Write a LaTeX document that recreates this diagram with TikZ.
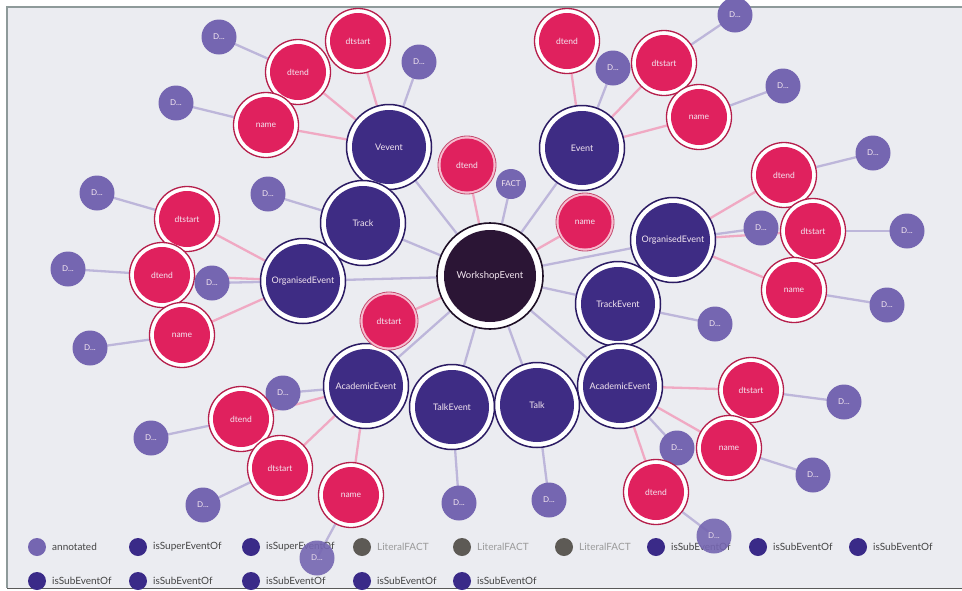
\documentclass[tikz,border=0pt]{standalone}
\usepackage{fontspec}
\setmainfont{Lato}
\pgfdeclarelayer{bg}
\pgfdeclarelayer{edgelayer}
\pgfsetlayers{bg,edgelayer,main}
\definecolor{bgc}{HTML}{EBECF1}
\definecolor{framec}{HTML}{8E9A9A}
\definecolor{purpfill}{HTML}{3E2C84}
\definecolor{purpout}{HTML}{2B1B63}
\definecolor{hubfill}{HTML}{2B1535}
\definecolor{hubout}{HTML}{1E0F25}
\definecolor{pinkfill}{HTML}{E0215E}
\definecolor{pinkout}{HTML}{B51E4B}
\definecolor{lavfill}{HTML}{7566B1}
\definecolor{lavedge}{HTML}{BDB6DA}
\definecolor{pinkedge}{HTML}{F0A9C3}
\definecolor{nodetext}{HTML}{F3E6F0}
\definecolor{legdark}{HTML}{3A2A88}
\definecolor{leggray}{HTML}{5D5A55}
\definecolor{legtext}{HTML}{444444}
\definecolor{legtextgray}{HTML}{9A9A9A}
\tikzset{
  hub/.style={circle, minimum size=106pt, inner sep=0pt, fill=white, draw=hubout, line width=1.6pt,
    path picture={\fill[hubfill] (path picture bounding box.center) circle (46pt);},
    text=nodetext, font=\fontsize{9.5}{11}\selectfont},
  bignode/.style={circle, minimum size=85pt, inner sep=0pt, fill=white, draw=purpout, line width=1.5pt,
    path picture={\fill[purpfill] (path picture bounding box.center) circle (37pt);},
    text=nodetext, font=\fontsize{9}{10}\selectfont},
  prop/.style={circle, minimum size=65pt, inner sep=0pt, fill=white, draw=pinkout, line width=1.3pt,
    path picture={\fill[pinkfill] (path picture bounding box.center) circle (28pt);},
    text=nodetext, font=\fontsize{8.5}{10}\selectfont},
  propc/.style={circle, minimum size=58pt, inner sep=0pt, fill=white!70!pinkfill, draw=pinkout!80, line width=0.8pt,
    path picture={\fill[pinkfill] (path picture bounding box.center) circle (26.5pt);},
    text=nodetext, font=\fontsize{8.5}{10}\selectfont},
  dnode/.style={circle, minimum size=35pt, inner sep=0pt, fill=lavfill, text=nodetext, font=\fontsize{8}{9}\selectfont},
  factnode/.style={circle, minimum size=30pt, inner sep=0pt, fill=lavfill, text=nodetext, font=\fontsize{8}{9}\selectfont},
  ledge/.style={draw=lavedge, line width=2.3pt},
  pedge/.style={draw=pinkedge, line width=2.3pt},
  legmark/.style={circle, minimum size=18pt, inner sep=0pt},
  legtxt/.style={anchor=west, inner sep=0pt, font=\fontsize{10}{12}\selectfont, text=legtext},
}
\begin{document}
\begin{tikzpicture}[x=1pt,y=-1pt]
\useasboundingbox (0,0) rectangle (962,590);
\begin{pgfonlayer}{bg}
\fill[white] (0,0) rectangle (962,590);
\fill[bgc] (7,7) rectangle (962,588);
\draw[framec, line width=2pt] (7,588) -- (7,7) -- (962,7);
\draw[black!65, line width=1.5pt] (7,588.5) -- (962,588.5);
\end{pgfonlayer}

% legend
\node[legmark, fill=lavfill] (lg1) at (37,547) {};
\node[legtxt] (lt1) at (52,547) {annotated};
\node[legmark, fill=legdark] (lg2) at (138,547) {};
\node[legtxt] (lt2) at (153,547) {isSuperEventOf};
\node[legmark, fill=legdark] (lg3) at (251,547) {};
\node[legtxt] (lt3) at (266,547) {isSuperEventOf};
\node[legmark, fill=leggray] (lg4) at (362,547) {};
\node[legtxt, text=legtextgray] (lt4) at (377,547) {LiteralFACT};
\node[legmark, fill=leggray] (lg5) at (462,547) {};
\node[legtxt, text=legtextgray] (lt5) at (477,547) {LiteralFACT};
\node[legmark, fill=leggray] (lg6) at (564,547) {};
\node[legtxt, text=legtextgray] (lt6) at (579,547) {LiteralFACT};
\node[legmark, fill=legdark] (lg7) at (656,547) {};
\node[legtxt] (lt7) at (671,547) {isSubEventOf};
\node[legmark, fill=legdark] (lg8) at (758,547) {};
\node[legtxt] (lt8) at (773,547) {isSubEventOf};
\node[legmark, fill=legdark] (lg9) at (858,547) {};
\node[legtxt] (lt9) at (873,547) {isSubEventOf};
\node[legmark, fill=legdark] (lg10) at (37,581) {};
\node[legtxt] (lt10) at (52,581) {isSubEventOf};
\node[legmark, fill=legdark] (lg11) at (138,581) {};
\node[legtxt] (lt11) at (153,581) {isSubEventOf};
\node[legmark, fill=legdark] (lg12) at (251,581) {};
\node[legtxt] (lt12) at (266,581) {isSubEventOf};
\node[legmark, fill=legdark] (lg13) at (362,581) {};
\node[legtxt] (lt13) at (377,581) {isSubEventOf};
\node[legmark, fill=legdark] (lg14) at (462,581) {};
\node[legtxt] (lt14) at (477,581) {isSubEventOf};

% main nodes
\node[hub] (ws) at (490,276) {WorkshopEvent};
\node[bignode] (vev) at (389,147) {Vevent};
\node[bignode] (evt) at (582,148) {Event};
\node[bignode] (trk) at (363,223) {Track};
\node[bignode] (orgL) at (303,281) {OrganisedEvent};
\node[bignode] (orgR) at (673,240) {OrganisedEvent};
\node[bignode] (tev) at (618,304) {TrackEvent};
\node[bignode] (acL) at (366,386) {AcademicEvent};
\node[bignode] (tkev) at (452,407) {TalkEvent};
\node[bignode] (talk) at (537,405) {Talk};
\node[bignode] (acR) at (620,386) {AcademicEvent};

% center children
\node[propc] (cdte) at (467,165) {dtend};
\node[factnode] (fact) at (511,184) {FACT};
\node[propc] (cnm) at (585,222) {name};
\node[propc] (cdts) at (389,321) {dtstart};

% Vevent group
\node[prop] (vdts) at (358,41) {dtstart};
\node[prop] (vdte) at (298,72) {dtend};
\node[prop] (vnm) at (266,125) {name};
\node[dnode] (vd1) at (219,37) {D...};
\node[dnode] (vd2) at (419,62) {D...};
\node[dnode] (vd3) at (176,103) {D...};
% Track
\node[dnode] (td) at (268,194) {D...};
% OrganisedEvent left
\node[prop] (odts) at (187,219) {dtstart};
\node[prop] (odte) at (162,275) {dtend};
\node[prop] (onm) at (182,335) {name};
\node[dnode] (od0) at (212,283) {D...};
\node[dnode] (od1) at (97,193) {D...};
\node[dnode] (od2) at (68,269) {D...};
\node[dnode] (od3) at (90,348) {D...};
% Event group
\node[prop] (edte) at (567,41) {dtend};
\node[dnode] (ed0) at (613,68) {D...};
\node[prop] (edts) at (664,63) {dtstart};
\node[prop] (enm) at (699,117) {name};
\node[dnode] (ed1) at (735,15) {D...};
\node[dnode] (ed2) at (783,86) {D...};
% OrganisedEvent right
\node[prop] (rdte) at (784,175) {dtend};
\node[dnode] (rd0) at (761,228) {D...};
\node[prop] (rdts) at (813,231) {dtstart};
\node[prop] (rnm) at (794,290) {name};
\node[dnode] (rd1) at (873,153) {D...};
\node[dnode] (rd2) at (907,231) {D...};
\node[dnode] (rd3) at (887,305) {D...};
% TrackEvent
\node[dnode] (ted) at (715,324) {D...};
% AcademicEvent right
\node[prop] (adts) at (751,390) {dtstart};
\node[prop] (anm) at (729,448) {name};
\node[dnode] (ad0) at (677,448) {D...};
\node[prop] (adte) at (656,492) {dtend};
\node[dnode] (ad1) at (844,402) {D...};
\node[dnode] (ad2) at (813,475) {D...};
\node[dnode, opacity=0.9] (ad3) at (714,536) {D...};
% Talk, TalkEvent
\node[dnode] (tkd) at (549,500) {D...};
\node[dnode] (tvd) at (459,503) {D...};
% AcademicEvent left
\node[dnode] (ld0) at (283,393) {D...};
\node[prop] (ldte) at (241,419) {dtend};
\node[prop] (ldts) at (280,468) {dtstart};
\node[prop] (lnm) at (351,495) {name};
\node[dnode] (ld1) at (151,438) {D...};
\node[dnode] (ld2) at (203,505) {D...};
\node[dnode, opacity=0.9] (ld3) at (317,558) {D...};

\begin{pgfonlayer}{edgelayer}
% hub
\foreach \t in {vev,evt,trk,orgL,orgR,tev,acL,acR,tkev,talk,fact}
  \draw[ledge] (ws.center) -- (\t.center);
\foreach \t in {cdte,cnm,cdts}
  \draw[pedge] (ws.center) -- (\t.center);
% Vevent
\foreach \t in {vdts,vdte,vnm} \draw[pedge] (vev.center) -- (\t.center);
\draw[ledge] (vev.center) -- (vd2.center);
\draw[ledge] (vdte.center) -- (vd1.center);
\draw[ledge] (vnm.center) -- (vd3.center);
\draw[ledge] (trk.center) -- (td.center);
% OrganisedEvent left
\foreach \t in {odts,odte,onm} \draw[pedge] (orgL.center) -- (\t.center);
\draw[ledge] (orgL.center) -- (od0.center);
\draw[ledge] (odts.center) -- (od1.center);
\draw[ledge] (odte.center) -- (od2.center);
\draw[ledge] (onm.center) -- (od3.center);
% Event
\foreach \t in {edte,edts,enm} \draw[pedge] (evt.center) -- (\t.center);
\draw[ledge] (evt.center) -- (ed0.center);
\draw[ledge] (edts.center) -- (ed1.center);
\draw[ledge] (enm.center) -- (ed2.center);
% OrganisedEvent right
\foreach \t in {rdte,rdts,rnm} \draw[pedge] (orgR.center) -- (\t.center);
\draw[ledge] (orgR.center) -- (rd0.center);
\draw[ledge] (rdte.center) -- (rd1.center);
\draw[ledge] (rdts.center) -- (rd2.center);
\draw[ledge] (rnm.center) -- (rd3.center);
\draw[ledge] (tev.center) -- (ted.center);
% AcademicEvent right
\foreach \t in {adts,anm,adte} \draw[pedge] (acR.center) -- (\t.center);
\draw[ledge] (acR.center) -- (ad0.center);
\draw[ledge] (adts.center) -- (ad1.center);
\draw[ledge] (anm.center) -- (ad2.center);
\draw[ledge] (adte.center) -- (ad3.center);
\draw[ledge] (talk.center) -- (tkd.center);
\draw[ledge] (tkev.center) -- (tvd.center);
% AcademicEvent left
\foreach \t in {ldte,ldts,lnm} \draw[pedge] (acL.center) -- (\t.center);
\draw[ledge] (acL.center) -- (ld0.center);
\draw[ledge] (ldte.center) -- (ld1.center);
\draw[ledge] (ldts.center) -- (ld2.center);
\draw[ledge] (lnm.center) -- (ld3.center);
\end{pgfonlayer}
\end{tikzpicture}
\end{document}
